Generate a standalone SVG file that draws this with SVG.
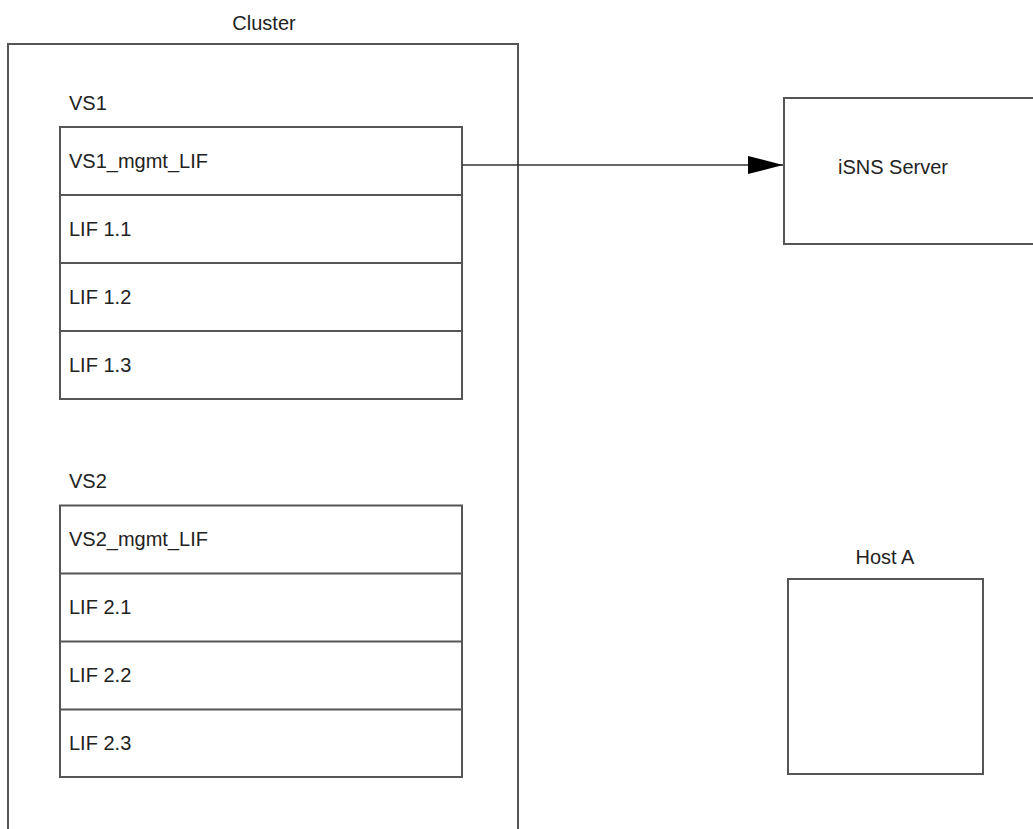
<svg xmlns="http://www.w3.org/2000/svg" width="1033" height="829" viewBox="0 0 1033 829">
<defs>
<style>
.box{fill:#fff;stroke:#555;stroke-width:2}
.ln{fill:none;stroke:#555;stroke-width:2}
.t{font-family:"Liberation Sans",Arial,sans-serif;font-size:20px;fill:#222}
.m{text-anchor:middle}
</style>
<marker id="arr" markerUnits="userSpaceOnUse" markerWidth="36" markerHeight="18" refX="35" refY="9" orient="auto">
<path d="M0,0 L35,9 L0,18 Z" fill="#000"/>
</marker>
</defs>
<rect width="1033" height="829" fill="#fff"/>
<g id="cluster">
<path class="ln" d="M8,830 L8,44 L518,44 L518,830"/>
<text class="t m" x="264" y="30">Cluster</text>
</g>
<g id="vs1">
<text class="t" x="69" y="110">VS1</text>
<rect class="box" x="60" y="127" width="402" height="272"/>
<path class="ln" d="M60,195H462M60,263H462M60,331H462"/>
<text class="t" x="69" y="168">VS1_mgmt_LIF</text>
<text class="t" x="69" y="236">LIF 1.1</text>
<text class="t" x="69" y="304">LIF 1.2</text>
<text class="t" x="69" y="372">LIF 1.3</text>
</g>
<g id="vs2">
<text class="t" x="69" y="488">VS2</text>
<rect class="box" x="60" y="505.5" width="402" height="271.5"/>
<path class="ln" d="M60,573.5H462M60,641.5H462M60,709.5H462"/>
<text class="t" x="69" y="546">VS2_mgmt_LIF</text>
<text class="t" x="69" y="614">LIF 2.1</text>
<text class="t" x="69" y="682">LIF 2.2</text>
<text class="t" x="69" y="750">LIF 2.3</text>
</g>
<g id="isns">
<path class="ln" d="M1040,98 L784,98 L784,244 L1040,244"/>
<text class="t" x="838" y="174">iSNS Server</text>
</g>
<g id="hosta">
<rect class="box" x="788" y="579" width="195" height="195"/>
<text class="t m" x="885" y="564">Host A</text>
</g>
<g id="connectors">
<line x1="462" y1="165" x2="783" y2="165" stroke="#333" stroke-width="1.5" marker-end="url(#arr)"/>
</g>
</svg>
